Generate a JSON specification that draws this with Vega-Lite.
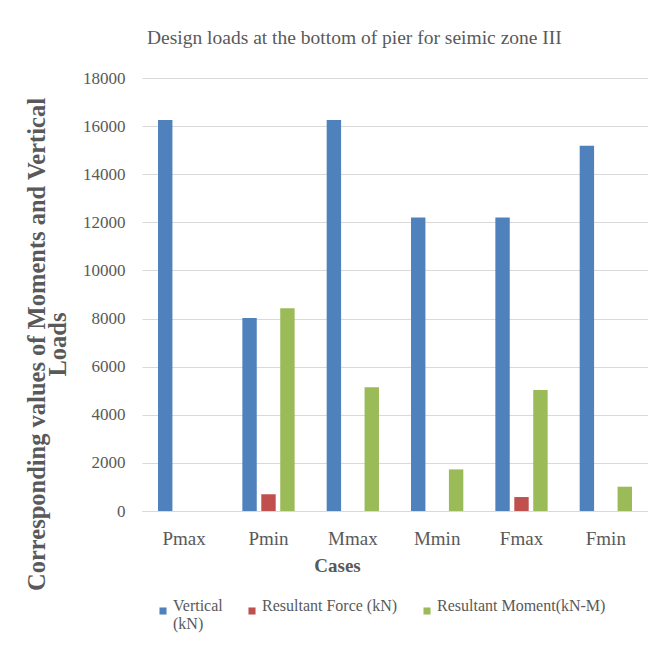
{
  "$schema": "https://vega.github.io/schema/vega-lite/v6.json",
  "width": 506,
  "height": 433,
  "autosize": {"type": "none"},
  "padding": {"left": 142, "top": 78, "right": 0, "bottom": 153},
  "background": "white",
  "title": {
    "text": "Design loads at the bottom of pier for seimic zone III",
    "anchor": "start",
    "frame": "group",
    "dx": 5,
    "offset": 21,
    "font": "Liberation Serif",
    "fontSize": 19.5,
    "fontWeight": "normal",
    "color": "#595959"
  },
  "data": {
    "values": [
      {"case": "Pmax", "series": "Vertical (kN)", "value": 16250},
      {"case": "Pmax", "series": "Resultant Force (kN)", "value": 0},
      {"case": "Pmax", "series": "Resultant Moment(kN-M)", "value": 0},
      {"case": "Pmin", "series": "Vertical (kN)", "value": 8020},
      {"case": "Pmin", "series": "Resultant Force (kN)", "value": 700},
      {"case": "Pmin", "series": "Resultant Moment(kN-M)", "value": 8430},
      {"case": "Mmax", "series": "Vertical (kN)", "value": 16250},
      {"case": "Mmax", "series": "Resultant Force (kN)", "value": 0},
      {"case": "Mmax", "series": "Resultant Moment(kN-M)", "value": 5140},
      {"case": "Mmin", "series": "Vertical (kN)", "value": 12200},
      {"case": "Mmin", "series": "Resultant Force (kN)", "value": 0},
      {"case": "Mmin", "series": "Resultant Moment(kN-M)", "value": 1730},
      {"case": "Fmax", "series": "Vertical (kN)", "value": 12200},
      {"case": "Fmax", "series": "Resultant Force (kN)", "value": 580},
      {"case": "Fmax", "series": "Resultant Moment(kN-M)", "value": 5030},
      {"case": "Fmin", "series": "Vertical (kN)", "value": 15180},
      {"case": "Fmin", "series": "Resultant Force (kN)", "value": 0},
      {"case": "Fmin", "series": "Resultant Moment(kN-M)", "value": 1010}
    ]
  },
  "mark": {"type": "bar"},
  "encoding": {
    "x": {
      "field": "case",
      "type": "nominal",
      "sort": ["Pmax", "Pmin", "Mmax", "Mmin", "Fmax", "Fmin"],
      "scale": {"paddingInner": 0.38, "paddingOuter": 0.19},
      "axis": {
        "title": "Cases",
        "labelAngle": 0,
        "ticks": false,
        "domainColor": "#d9d9d9",
        "labelFont": "Liberation Serif",
        "labelFontSize": 19,
        "labelColor": "#595959",
        "labelPadding": 18,
        "titleFont": "Liberation Serif",
        "titleFontSize": 19,
        "titleFontWeight": "bold",
        "titleColor": "#595959",
        "titleBaseline": "middle",
        "titleY": 54,
        "titleX": 195
      }
    },
    "xOffset": {
      "field": "series",
      "type": "nominal",
      "sort": ["Vertical (kN)", "Resultant Force (kN)", "Resultant Moment(kN-M)"],
      "scale": {"paddingInner": 0.24, "paddingOuter": 0}
    },
    "y": {
      "field": "value",
      "type": "quantitative",
      "scale": {"domain": [0, 18000], "nice": false},
      "axis": {
        "title": ["Corresponding values of Moments and Vertical", "Loads"],
        "values": [0, 2000, 4000, 6000, 8000, 10000, 12000, 14000, 16000, 18000],
        "format": "d",
        "ticks": false,
        "domain": false,
        "gridColor": "#d9d9d9",
        "labelFont": "Liberation Serif",
        "labelFontSize": 17,
        "labelColor": "#595959",
        "labelPadding": 17,
        "titleFont": "Liberation Serif",
        "titleFontSize": 24.5,
        "titleFontWeight": "bold",
        "titleColor": "#595959",
        "titleLineHeight": 21,
        "titleAngle": -90,
        "titleAlign": "center",
        "titleBaseline": "middle",
        "titleX": -105,
        "titleY": 266
      }
    },
    "color": {
      "field": "series",
      "type": "nominal",
      "sort": ["Vertical (kN)", "Resultant Force (kN)", "Resultant Moment(kN-M)"],
      "scale": {
        "domain": ["Vertical (kN)", "Resultant Force (kN)", "Resultant Moment(kN-M)"],
        "range": ["#4f81bd", "#c0504d", "#9bbb59"]
      },
      "legend": {
        "title": null,
        "orient": "none",
        "direction": "horizontal",
        "legendX": 13,
        "legendY": 525,
        "symbolType": "square",
        "symbolSize": 50,
        "symbolStrokeWidth": 0,
        "labelFont": "Liberation Serif",
        "labelFontSize": 16,
        "labelColor": "#595959",
        "labelOffset": 2,
        "columnPadding": 21,
        "labelExpr": "datum.label == 'Vertical (kN)' ? ['Vertical', '(kN)'] : [datum.label, ' ']",
        "labelBaseline": "alphabetic",
        "labelLimit": 300
      }
    }
  },
  "config": {
    "view": {"stroke": null}
  }
}
